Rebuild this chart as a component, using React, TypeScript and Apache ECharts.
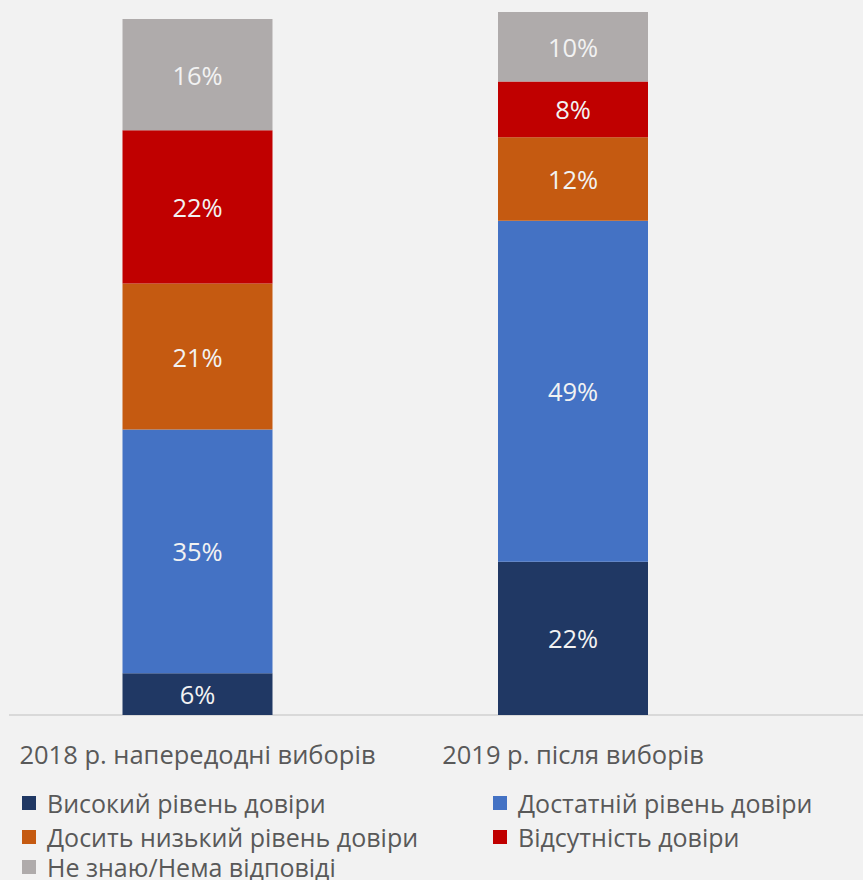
import React, { useEffect, useRef } from "react";
import * as echarts from "echarts";

const categories = ["2018 р. напередодні виборів", "2019 р. після виборів"];
const seriesNames = [
  "Високий рівень довіри",
  "Достатній рівень довіри",
  "Досить низький рівень довіри",
  "Відсутність довіри",
  "Не знаю/Нема відповіді",
];
const highTrust = [6, 22];
const sufficientTrust = [35, 49];
const ratherLowTrust = [21, 12];
const noTrust = [22, 8];
const dontKnow = [16, 10];
const colors = ["#203864", "#4472c4", "#c55a11", "#c00000", "#afabab"];

const FONT = "Open Sans";

export default function App() {
  const ref = useRef<HTMLDivElement>(null);
  useEffect(() => {
    document.body.style.margin = "0";
    const chart = echarts.init(ref.current!, null, { renderer: "svg" });
    const values = [highTrust, sufficientTrust, ratherLowTrust, noTrust, dontKnow];
    const legendPos = [
      { left: 22, top: 790 },
      { left: 493, top: 790 },
      { left: 22, top: 824 },
      { left: 493, top: 824 },
      { left: 22, top: 854 },
    ];
    chart.setOption({
      animation: false,
      backgroundColor: "#f2f2f2",
      grid: { left: 9.75, width: 751, top: 12, bottom: 165 },
      xAxis: {
        type: "category",
        data: categories,
        axisLine: { show: false },
        axisTick: { show: false },
        axisLabel: {
          color: "#595959",
          fontSize: 25.5,
          fontFamily: FONT,
          margin: 26,
          interval: 0,
          hideOverlap: false,
        },
      },
      yAxis: { type: "value", min: 0, max: 101, show: false, splitLine: { show: false } },
      legend: seriesNames.map((n, i) => ({
        data: [n],
        left: legendPos[i].left,
        top: legendPos[i].top,
        padding: 0,
        itemWidth: 14,
        itemHeight: 14,
        icon: "rect",
        textStyle: {
          color: "#595959",
          fontSize: 25,
          fontFamily: FONT,
          padding: [0, 0, 0, 6],
          lineHeight: 26,
        },
      })),
      graphic: [
        {
          type: "line",
          shape: { x1: 9, y1: 715, x2: 863, y2: 715 },
          style: { stroke: "#d9d9d9", lineWidth: 2 },
          silent: true,
        },
      ],
      series: seriesNames.map((n, i) => ({
        name: n,
        type: "bar",
        stack: "total",
        barWidth: 150,
        data: values[i],
        itemStyle: { color: colors[i] },
        label: {
          show: true,
          position: "inside",
          formatter: "{c}%",
          color: "#f2f2f2",
          fontSize: 25.5,
          fontFamily: FONT,
        },
      })),
    });
    return () => chart.dispose();
  }, []);
  return <div ref={ref} style={{ width: 863, height: 880 }} />;
}
